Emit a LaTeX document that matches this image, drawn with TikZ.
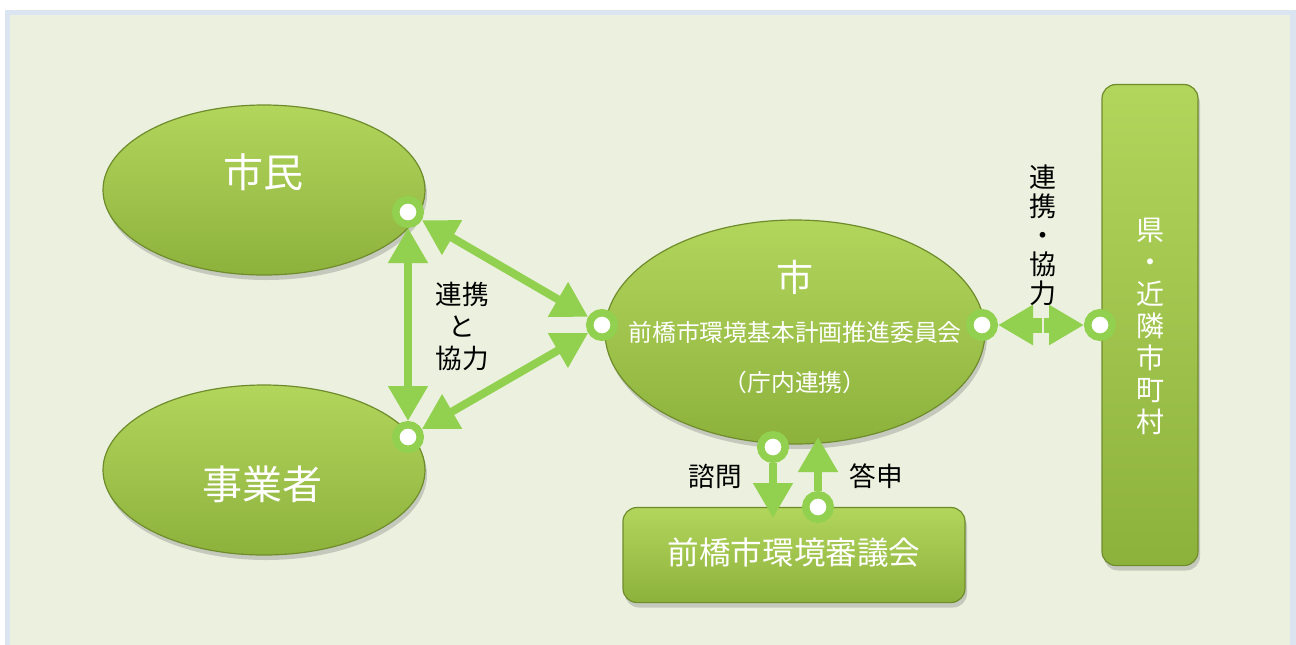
\documentclass[tikz,border=0pt]{standalone}
\usepackage{fontspec}
\setmainfont{Noto Sans CJK JP}
\usetikzlibrary{arrows.meta,shapes.geometric,shadows,positioning}

\definecolor{linkgreen}{HTML}{92D050}
\definecolor{paneback}{HTML}{EBF1DE}
\definecolor{paneedge}{HTML}{DBE5F1}
\definecolor{bodytop}{HTML}{B2D55C}
\definecolor{bodybot}{HTML}{8DB23C}
\definecolor{bodyrim}{HTML}{6F8C2C}

\begin{document}
\begin{tikzpicture}[x=0.5pt,y=-0.5pt,>={Triangle[length=17.5pt,width=19pt]},
    body/.style={top color=bodytop,bottom color=bodybot,draw=bodyrim,line width=0.6pt,
                 drop shadow={opacity=0.35,shadow xshift=1pt,shadow yshift=-2.5pt}},
    party/.style={body,ellipse,minimum width=161pt,minimum height=85pt,inner sep=0pt},
    bar/.style={body,rectangle,rounded corners=7pt,inner sep=0pt},
    inside/.style={text=white,inner sep=0pt},
    link/.style={draw=linkgreen,line width=4pt},
    dot/.style={circle,draw=linkgreen,fill=white,line width=3.75pt,minimum size=12.25pt,inner sep=0pt},
    note/.style={inner sep=0pt,align=center,font=\fontsize{13.3pt}{16pt}\selectfont}]

  % pane
  \useasboundingbox (0,0) rectangle (1296,644);
  \fill[paneedge] (5,10) rectangle (1310,660);
  \fill[paneback] (10,15) rectangle (1290,660);

  \node[party] (shimin) at (264,190) {};
  \node[party] (jigyo)  at (264,470) {};
  \node[party,minimum width=190pt,minimum height=112pt] (shi) at (795,332) {};
  \node[bar,minimum width=171pt,minimum height=47.5pt] (shingi) at (794,555) {};
  \node[bar,minimum width=48pt,minimum height=240.5pt] (kinrin) at (1150,325) {};

  \node[inside,font=\fontsize{20pt}{24pt}\selectfont] (shimintxt) at (263,172) {市民};
  \node[inside,font=\fontsize{20pt}{24pt}\selectfont] (jigyotxt) at (262,484) {事業者};
  \node[inside,font=\fontsize{18.5pt}{22pt}\selectfont] (shitxt) at (795,277) {市};
  \node[inside,font=\fontsize{11.9pt}{14pt}\selectfont] (iinkai) [below=27.5pt of shitxt.center,anchor=center] {前橋市環境基本計画推進委員会};
  \node[inside,font=\fontsize{11.9pt}{14pt}\selectfont] (chonai) [below=25pt of iinkai.center,anchor=center] {（庁内連携）};
  \node[inside,font=\fontsize{15.8pt}{19pt}\selectfont] (shingitxt) at (794,553) {前橋市環境審議会};
  \node[inside,align=center,font=\fontsize{14pt}{16pt}\selectfont] (kinrintxt) at (1150,326) {県\\・\\近\\隣\\市\\町\\村};

  \node[note] (renkei) at (462,326) {連携\\と\\協力};
  \node[note,font=\fontsize{13.5pt}{14.5pt}\selectfont] (renkei2) at (1043,235) {連\\携\\・\\協\\力};
  \node[note] (shimon) at (715,476) {諮問};
  \node[note] (toshin) at (876,476) {答申};

  \node[dot] (p1) at (408,212) {};
  \node[dot] (p2) at (408,437) {};
  \node[dot] (p3) at (602,325) {};
  \node[dot] (p4) at (982,325) {};
  \node[dot] (p5) at (1100,325) {};
  \node[dot] (p6) at (773,447) {};
  \node[dot] (p7) at (818,507) {};

  \coordinate (mid)   at (1043,325);
  \coordinate (askto) at (773,518);
  \coordinate (ansto) at (818,437);

  \path (p1) edge[link,<->] (p2)
        (p1) edge[link,<->] (p3)
        (p2) edge[link,<->] (p3)
        (mid) edge[link,->,line width=7.5pt,shorten <=0.5pt] (p4)
        (mid) edge[link,->,line width=7.5pt,shorten <=0.5pt] (p5)
        (p6) edge[link,->] (askto)
        (p7) edge[link,->] (ansto);

\end{tikzpicture}
\end{document}
